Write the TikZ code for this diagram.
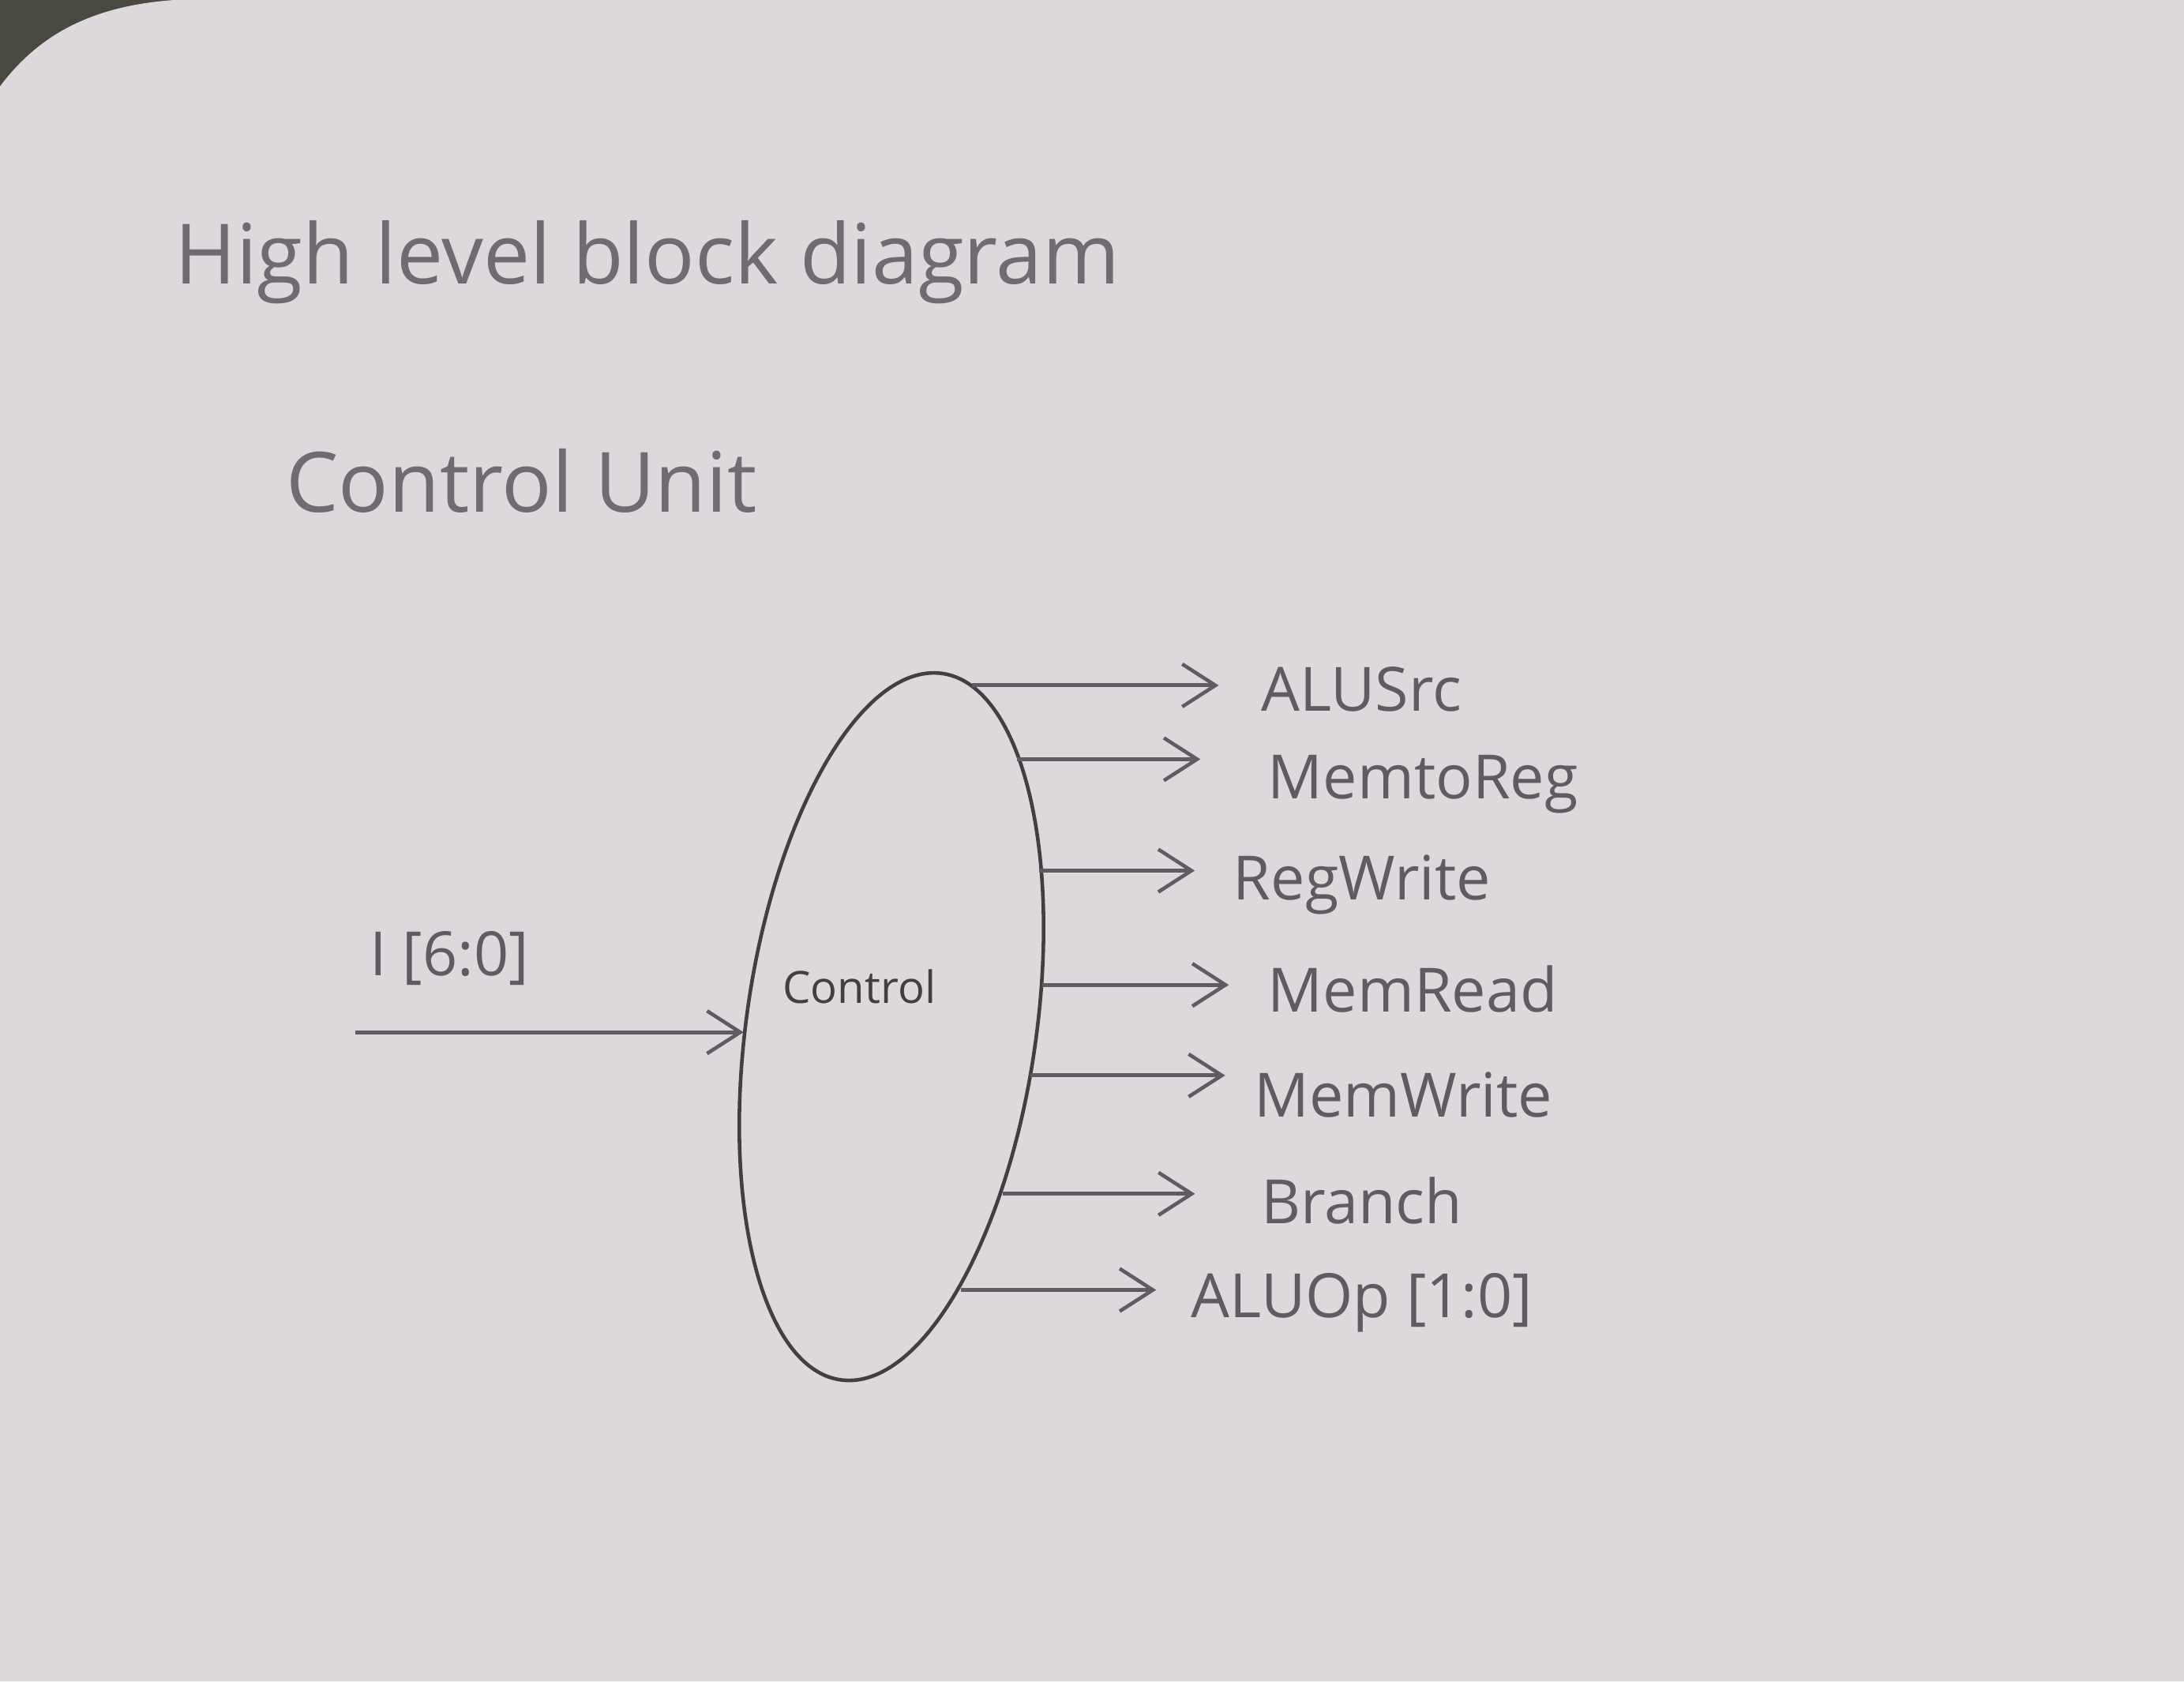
\documentclass[tikz,border=0pt]{standalone}
\usepackage{fontspec}
\setmainfont{Open Sans}
\usepackage{tikz}
\usetikzlibrary{shapes,arrows.meta}
\definecolor{paper}{RGB}{221,216,219}
\definecolor{desk}{RGB}{72,74,64}
\definecolor{ink}{RGB}{66,62,66}
\definecolor{pencil}{RGB}{96,91,96}
\definecolor{faint}{RGB}{112,107,112}
\tikzstyle{ctrlblock} = [ellipse, draw=ink, line width=1.3pt, inner sep=0pt,
                     minimum width=37mm, minimum height=89.6mm, xslant=0.12]
\tikzstyle{siglabel} = [anchor=west, inner sep=0pt, text=pencil,
                     font=\fontsize{22}{26}\selectfont]
\tikzstyle{heading} = [anchor=west, inner sep=0pt, text=faint,
                     font=\fontsize{30}{34}\selectfont]

\begin{document}
\begin{tikzpicture}[x=0.1764mm, y=-0.1764mm,
sig/.style={draw=pencil, line width=1.4pt, shorten >=5.3mm,
  -{Straight Barb[length=4.2mm, width=5.4mm, line width=1.3pt]}},
ctrltext/.style={text=ink, font=\fontsize{16}{18}\selectfont}]
% Paper
\fill[desk] (0,0) rectangle (1568,1207);
\fill[paper] (0,62) .. controls (30,22) and (70,4) .. (125,0) -- (1568,0) -- (1568,1207) -- (0,1207) -- cycle;
\useasboundingbox (0,0) rectangle (1568,1207);

% Headings
\node[heading] (title) at (125,188) {High level block diagram};
\node[heading] (unit) at (205,345) {Control Unit};

% Control block
\node[ctrlblock] (ctrl) at (640,737) {};
\node[ctrltext] (ctrlname) at (617,708) {Control};

% Input
\coordinate (in) at (255,741);
\node[siglabel] (inlabel) at (265,688) {I [6:0]};
\draw[sig, shorten >=0pt] (in) -- (in -| ctrl.west);

% Outputs
\coordinate (o1) at (698,492);
\coordinate (o2) at (730,545);
\coordinate (o3) at (746,625);
\coordinate (o4) at (748,707);
\coordinate (o5) at (740,772);
\coordinate (o6) at (720,857);
\coordinate (o7) at (690,926);
\node[siglabel] (alusrc) at (905,495) {ALUSrc};
\node[siglabel] (memtoreg) at (910,563) {MemtoReg};
\node[siglabel] (regwrite) at (885,635) {RegWrite};
\node[siglabel] (memread) at (910,710) {MemRead};
\node[siglabel] (memwrite) at (900,786) {MemWrite};
\node[siglabel] (branch) at (905,862) {Branch};
\node[siglabel] (aluop) at (855,935) {ALUOp [1:0]};
\draw[sig] (o1) -- (o1 -| alusrc.west);
\draw[sig, shorten >=8.5mm] (o2) -- (o2 -| memtoreg.west);
\draw[sig, shorten >=4.8mm] (o3) -- (o3 -| regwrite.west);
\draw[sig, shorten >=4.9mm] (o4) -- (o4 -| memread.west);
\draw[sig, shorten >=3.6mm] (o5) -- (o5 -| memwrite.west);
\draw[sig, shorten >=8.3mm] (o6) -- (o6 -| branch.west);
\draw[sig, shorten >=4.4mm] (o7) -- (o7 -| aluop.west);
\end{tikzpicture}
\end{document}
